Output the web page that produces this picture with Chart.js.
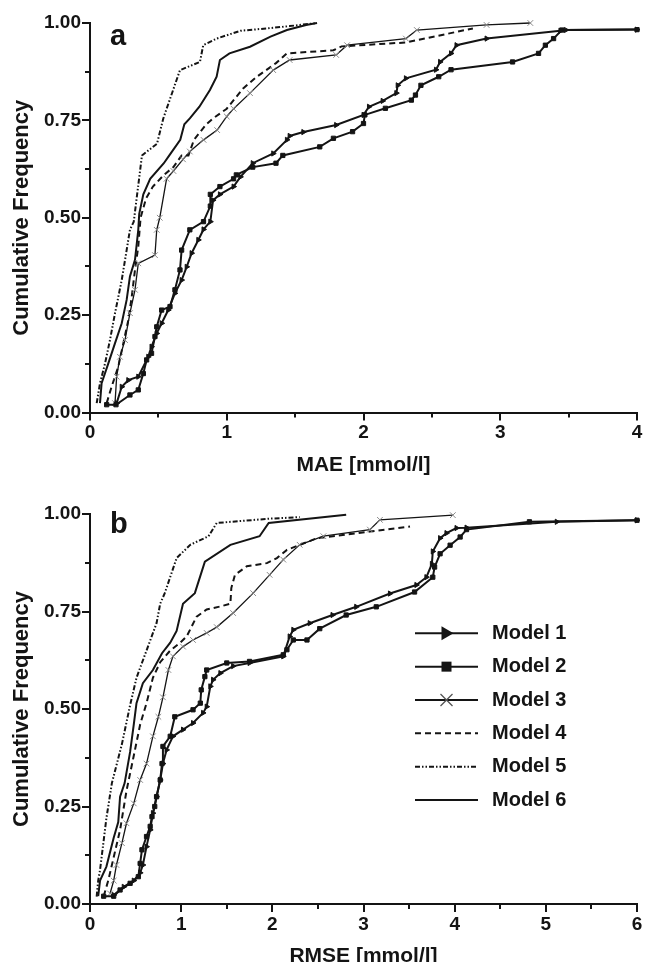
<!DOCTYPE html>
<html>
<head>
<meta charset="utf-8">
<script src="https://cdn.jsdelivr.net/npm/chart.js@4.4.1/dist/chart.umd.min.js"></script>
<style>
  html, body { margin:0; padding:0; background:#fff; width:645px; height:962px; overflow:hidden; }
  .panel { position:absolute; left:0; width:645px; }
  #wrapA { top:0; height:481px; }
  #wrapB { top:481px; height:490px; }
</style>
</head>
<body>
<div class="panel" id="wrapA"><canvas id="chartA"></canvas></div>
<div class="panel" id="wrapB"><canvas id="chartB"></canvas></div>
<script>
/* cumulative frequency curves as [x, y] pairs */
const modelNames = ['Model 1', 'Model 2', 'Model 3', 'Model 4', 'Model 5', 'Model 6'];
const yMajorTicks = [0, 0.25, 0.5, 0.75, 1];
const maeTicks  = [0, 1, 2, 3, 4];
const rmseTicks = [0, 1, 2, 3, 4, 5, 6];

/* panel a — MAE */
const maeModel1 = [[.195,.024],[.232,.066],[.28,.083],[.353,.092],[.426,.143],[.45,.169],[.488,.203],[.524,.229],[.572,.263],[.621,.306],[.67,.34],[.707,.374],[.743,.409],[.792,.443],[.83,.47],[.88,.49],[.90,.545],[.95,.56],[1.05,.58],[1.10,.605],[1.19,.64],[1.34,.665],[1.44,.70],[1.46,.71],[1.56,.72],[1.80,.738],[2.0,.764],[2.04,.785],[2.14,.80],[2.24,.82],[2.25,.84],[2.31,.858],[2.53,.88],[2.56,.90],[2.64,.922],[2.68,.943],[2.90,.96],[3.44,.98],[3.48,.982],[4.0,.983]];
const maeModel2 = [[.122,.02],[.19,.02],[.292,.045],[.353,.058],[.39,.10],[.414,.135],[.45,.152],[.475,.195],[.488,.22],[.524,.263],[.585,.272],[.621,.315],[.658,.366],[.67,.417],[.73,.469],[.83,.49],[.88,.53],[.88,.56],[.95,.58],[1.05,.60],[1.07,.61],[1.19,.63],[1.36,.64],[1.41,.66],[1.68,.682],[1.78,.704],[1.92,.721],[2.0,.742],[2.01,.764],[2.16,.781],[2.35,.802],[2.38,.815],[2.42,.84],[2.55,.862],[2.64,.88],[3.09,.90],[3.28,.922],[3.33,.943],[3.39,.96],[3.45,.982],[4.0,.983]];
const maeModel3 = [[.183,.024],[.195,.092],[.219,.143],[.256,.186],[.292,.255],[.329,.315],[.353,.383],[.475,.404],[.488,.469],[.51,.50],[.56,.60],[.61,.62],[.68,.65],[.73,.67],[.83,.70],[.93,.725],[1.0,.76],[1.05,.78],[1.17,.82],[1.34,.879],[1.46,.905],[1.80,.918],[1.88,.943],[2.31,.96],[2.39,.982],[2.90,.995],[3.22,1.0]];
const maeModel4 = [[.122,.024],[.158,.066],[.207,.118],[.244,.178],[.28,.237],[.305,.297],[.329,.366],[.353,.426],[.37,.50],[.41,.55],[.46,.58],[.54,.61],[.61,.63],[.67,.66],[.72,.66],[.76,.70],[.85,.74],[.90,.755],[1.0,.78],[1.12,.832],[1.22,.862],[1.36,.897],[1.44,.922],[1.78,.93],[1.84,.94],[2.31,.95],[2.80,.986]];
const maeModel5 = [[.049,.024],[.073,.075],[.11,.126],[.146,.186],[.183,.255],[.232,.34],[.268,.417],[.292,.469],[.32,.49],[.38,.66],[.49,.69],[.536,.755],[.658,.879],[.804,.90],[.828,.943],[.926,.96],[1.10,.98],[1.29,.986],[1.46,.992],[1.66,1.0]];
const maeModel6 = [[.073,.024],[.085,.075],[.134,.126],[.183,.178],[.232,.229],[.268,.289],[.292,.349],[.329,.392],[.353,.469],[.36,.51],[.39,.56],[.44,.60],[.54,.64],[.58,.66],[.66,.70],[.69,.74],[.73,.755],[.80,.785],[.877,.828],[.926,.862],[.95,.905],[1.02,.922],[1.17,.939],[1.32,.965],[1.44,.982],[1.58,.995],[1.66,1.0]];

/* panel b — RMSE */
const rmseModel1 = [[.26,.023],[.37,.044],[.48,.06],[.55,.08],[.58,.10],[.62,.147],[.66,.19],[.69,.233],[.73,.275],[.77,.318],[.80,.36],[.84,.395],[.91,.43],[1.02,.447],[1.13,.464],[1.24,.49],[1.28,.506],[1.32,.558],[1.35,.575],[1.43,.592],[1.57,.61],[1.75,.618],[2.12,.635],[2.19,.686],[2.23,.703],[2.41,.72],[2.66,.741],[2.92,.762],[3.29,.796],[3.58,.818],[3.69,.838],[3.75,.872],[3.76,.904],[3.84,.938],[3.91,.951],[4.02,.964],[4.13,.965],[5.12,.98],[6.0,.984]];
const rmseModel2 = [[.15,.02],[.26,.02],[.33,.036],[.44,.053],[.53,.07],[.55,.104],[.57,.139],[.62,.173],[.66,.199],[.68,.224],[.71,.25],[.73,.275],[.77,.318],[.79,.36],[.80,.404],[.88,.43],[.93,.48],[1.13,.498],[1.21,.515],[1.22,.549],[1.26,.583],[1.28,.60],[1.50,.618],[1.75,.622],[2.12,.639],[2.16,.652],[2.23,.677],[2.38,.677],[2.52,.706],[2.81,.741],[3.14,.762],[3.56,.80],[3.76,.838],[3.78,.864],[3.84,.898],[3.95,.92],[4.06,.941],[4.13,.96],[4.82,.98],[6.0,.984]];
const rmseModel3 = [[.22,.027],[.26,.06],[.29,.10],[.35,.156],[.40,.207],[.48,.258],[.55,.318],[.62,.36],[.69,.43],[.75,.48],[.80,.53],[.86,.60],[.91,.635],[1.02,.66],[1.13,.677],[1.28,.695],[1.39,.71],[1.57,.746],[1.79,.797],[1.97,.844],[2.12,.883],[2.30,.921],[2.56,.943],[3.07,.96],[3.18,.985],[3.98,.997]];
const rmseModel4 = [[.15,.02],[.20,.06],[.26,.12],[.33,.19],[.40,.29],[.48,.38],[.55,.46],[.62,.515],[.69,.58],[.77,.62],[.88,.65],[.99,.67],[1.06,.686],[1.17,.737],[1.28,.755],[1.43,.763],[1.54,.77],[1.55,.81],[1.59,.844],[1.72,.866],[1.94,.874],[2.05,.887],[2.16,.908],[2.49,.938],[3.07,.955],[3.51,.968]];
const rmseModel5 = [[.073,.019],[.09,.06],[.11,.087],[.18,.22],[.24,.31],[.35,.41],[.44,.51],[.51,.58],[.62,.65],[.73,.72],[.77,.77],[.82,.797],[.95,.887],[1.10,.921],[1.30,.943],[1.39,.977],[1.97,.988],[2.30,.992]];
const rmseModel6 = [[.09,.02],[.11,.06],[.18,.096],[.26,.17],[.31,.21],[.33,.275],[.38,.31],[.44,.39],[.48,.46],[.51,.515],[.58,.566],[.69,.60],[.79,.643],[.88,.67],[.95,.70],[1.02,.77],[1.15,.797],[1.26,.878],[1.54,.921],[1.86,.943],[1.96,.977],[2.81,.998]];

const INK = '#141414';
const FONT = '"Liberation Sans", Arial, Helvetica, sans-serif';
Chart.defaults.font.family = FONT;
Chart.defaults.color = INK;

/* look of each model (same order as modelNames) */
const looks = [
  { borderWidth:2, pointStyle:'triangle', rotation:90, pointRadius:3, pointBackgroundColor:INK, pointBorderColor:INK, pointBorderWidth:1 },
  { borderWidth:2, pointStyle:'rect', pointRadius:3, pointBackgroundColor:INK, pointBorderColor:INK, pointBorderWidth:1 },
  { borderWidth:1.3, pointStyle:'crossRot', pointRadius:4, pointBorderColor:'#8a8a8a', pointBorderWidth:1 },
  { borderWidth:2, borderDash:[6,4], pointRadius:0 },
  { borderWidth:2, borderDash:[5,2,1.5,2,1.5,2], pointRadius:0 },
  { borderWidth:2, pointRadius:0 },
];

/* tick marks: long at labelled ticks, short in between */
const tickMarks = {
  id: 'tickMarks',
  afterDraw(chart){
    const ctx = chart.ctx, xs = chart.scales.x, ys = chart.scales.y;
    ctx.save();
    ctx.strokeStyle = INK; ctx.lineWidth = 2;
    xs.ticks.forEach(t => {
      const px = Math.round(xs.getPixelForValue(t.value));
      const len = t.label !== '' ? 8 : 5;
      ctx.beginPath(); ctx.moveTo(px, xs.top); ctx.lineTo(px, xs.top + len); ctx.stroke();
    });
    ys.ticks.forEach(t => {
      const py = Math.round(ys.getPixelForValue(t.value));
      const len = t.label !== '' ? 8 : 5;
      ctx.beginPath(); ctx.moveTo(ys.right, py); ctx.lineTo(ys.right - len, py); ctx.stroke();
    });
    ctx.restore();
  }
};

/* panel letter (a / b) */
const panelLetter = {
  id: 'panelLetter',
  afterDraw(chart, args, opts){
    if (!opts.text) return;
    const ctx = chart.ctx, area = chart.chartArea;
    ctx.save();
    ctx.font = 'bold 29px ' + FONT;
    ctx.fillStyle = INK; ctx.textBaseline = 'alphabetic'; ctx.textAlign = 'left';
    ctx.fillText(opts.text, area.left + 20, area.top + opts.dy);
    ctx.restore();
  }
};

/* legend: line sample with centred marker, like the original */
function drawMarker(ctx, i, cx, cy){
  ctx.save();
  if (i === 0){
    ctx.fillStyle = INK;
    ctx.beginPath(); ctx.moveTo(cx - 5, cy - 7); ctx.lineTo(cx + 7, cy); ctx.lineTo(cx - 5, cy + 7); ctx.closePath(); ctx.fill();
  } else if (i === 1){
    ctx.fillStyle = INK; ctx.fillRect(cx - 5, cy - 5, 10, 10);
  } else if (i === 2){
    ctx.strokeStyle = '#555'; ctx.lineWidth = 1.3; ctx.setLineDash([]);
    ctx.beginPath(); ctx.moveTo(cx - 6, cy - 6); ctx.lineTo(cx + 6, cy + 6);
    ctx.moveTo(cx + 6, cy - 6); ctx.lineTo(cx - 6, cy + 6); ctx.stroke();
  }
  ctx.restore();
}
const lineLegend = {
  id: 'lineLegend',
  afterDraw(chart, args, opts){
    if (!opts.show) return;
    const ctx = chart.ctx;
    chart.data.datasets.forEach((ds, i) => {
      const y = opts.y0 + i * opts.dy;
      ctx.save();
      ctx.strokeStyle = INK; ctx.lineWidth = 2;
      ctx.setLineDash(ds.borderDash || []);
      ctx.beginPath(); ctx.moveTo(opts.x0, y); ctx.lineTo(opts.x1, y); ctx.stroke();
      ctx.restore();
      drawMarker(ctx, i, (opts.x0 + opts.x1) / 2, y);
      ctx.save();
      ctx.font = 'bold 20px ' + FONT; ctx.fillStyle = INK;
      ctx.textBaseline = 'middle'; ctx.textAlign = 'left';
      ctx.fillText(ds.label, opts.textX, y);
      ctx.restore();
    });
  }
};

function makePanel(canvasId, cfg){
  const datasets = cfg.series.map((pts, i) => Object.assign({
    label: modelNames[i],
    data: pts.map(p => ({ x:p[0], y:p[1] })),
    borderColor: INK,
    backgroundColor: INK,
    fill: false, tension: 0, clip: 6,
  }, looks[i]));

  return new Chart(document.getElementById(canvasId), {
    type: 'line',
    data: { datasets },
    options: {
      responsive: true, maintainAspectRatio: false, animation: false,
      devicePixelRatio: 1,
      layout: { padding: { left:0, right:8, top:cfg.top, bottom:0 } },
      plugins: {
        legend: { display:false }, tooltip: { enabled:false },
        panelLetter: { text: cfg.letter, dy: cfg.letterDy },
        lineLegend: cfg.legend || { show:false },
      },
      scales: {
        x: {
          type: 'linear', min: 0, max: cfg.xTicks[cfg.xTicks.length - 1],
          afterFit: s => { s.height = cfg.xAxisH; },
          grid: { display:false, drawTicks:true, tickLength:8 },
          border: { display:true, color:INK, width:2 },
          ticks: { stepSize:0.5, autoSkip:false, maxRotation:0, padding:1,
            font: { size:19, weight:'bold' }, color: INK,
            callback: v => cfg.xTicks.includes(v) ? String(v) : '' },
          title: { display:true, text: cfg.xTitle, color: INK,
            font: { size:21, weight:'bold' }, padding: { top:0, bottom: cfg.xTitlePad } },
        },
        y: {
          type: 'linear', min: 0, max: 1,
          afterFit: s => { s.width = 90; },
          grid: { display:false, drawTicks:true, tickLength:8 },
          border: { display:true, color:INK, width:2 },
          ticks: { stepSize:0.125, autoSkip:false, padding:1,
            font: { size:19, weight:'bold' }, color: INK,
            callback: v => yMajorTicks.includes(v) ? v.toFixed(2) : '' },
          title: { display:true, text:'Cumulative Frequency', color: INK,
            font: { size:22, weight:'bold' }, padding: { top:8.8, bottom:0 } },
        },
      },
    },
    plugins: [tickMarks, panelLetter, lineLegend],
  });
}

makePanel('chartA', {
  series: [maeModel1, maeModel2, maeModel3, maeModel4, maeModel5, maeModel6],
  xTicks: maeTicks, xTitle: 'MAE [mmol/l]',
  top: 23, xAxisH: 68.5, xTitlePad: 3.4,
  letter: 'a', letterDy: 22,
});

makePanel('chartB', {
  series: [rmseModel1, rmseModel2, rmseModel3, rmseModel4, rmseModel5, rmseModel6],
  xTicks: rmseTicks, xTitle: 'RMSE [mmol/l]',
  top: 33, xAxisH: 67, xTitlePad: 2.4,
  letter: 'b', letterDy: 19,
  legend: { show:true, x0:415, x1:478, textX:492, y0:152.3, dy:33.35 },
});
</script>
</body>
</html>
